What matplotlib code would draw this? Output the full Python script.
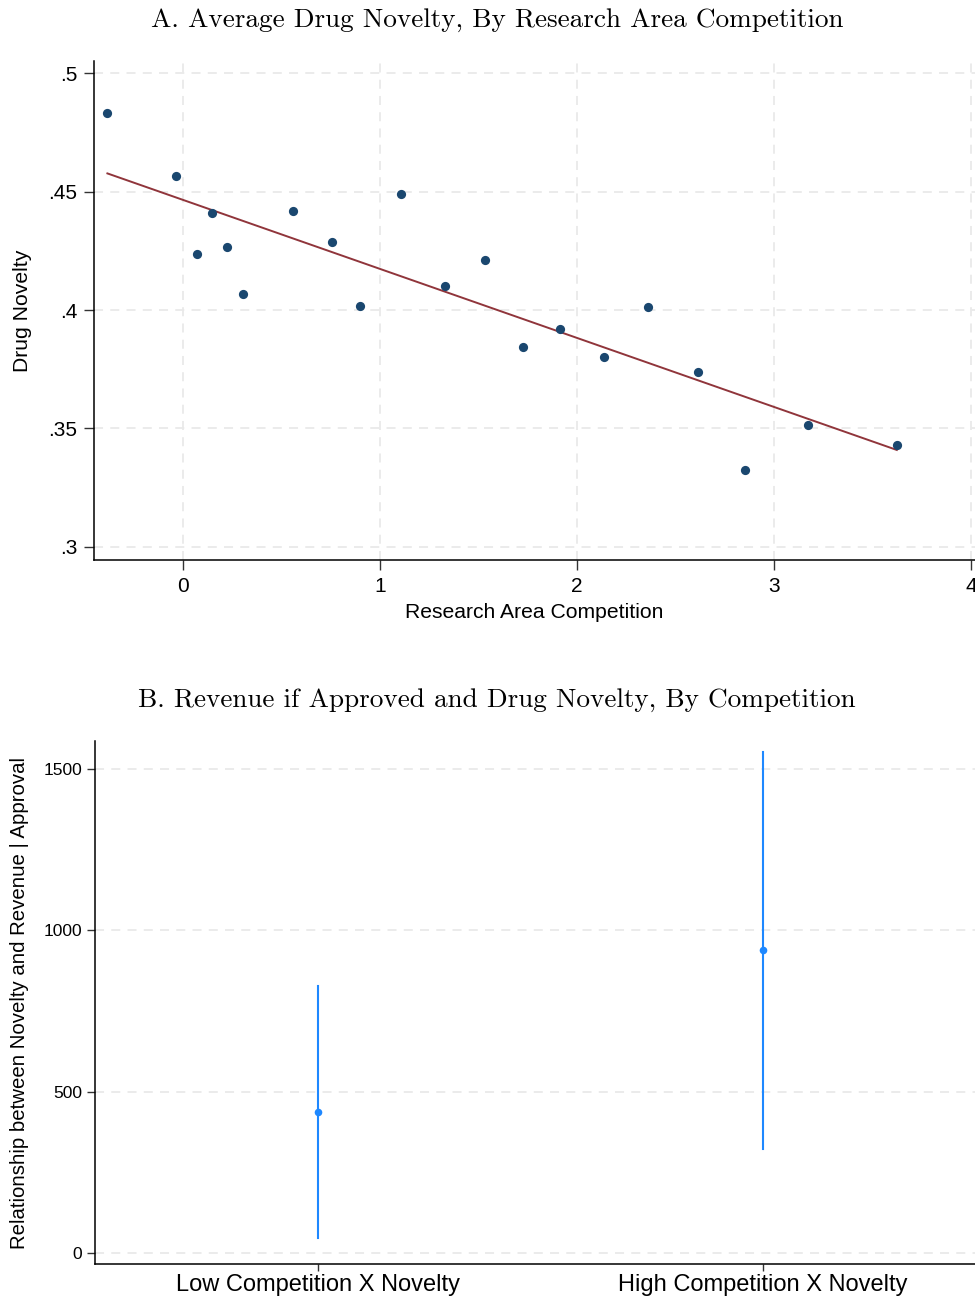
import matplotlib
matplotlib.use("Agg")
import matplotlib.pyplot as plt

# Panel A: binned scatter of drug novelty against research area competition
competition = [-0.385, -0.035, 0.147, 0.071, 0.223, 0.304, 0.555, 0.757, 0.898,
               1.105, 1.327, 1.531, 1.727, 1.915, 2.134, 2.362, 2.616, 2.854,
               3.172, 3.623]
novelty = [0.4833, 0.4565, 0.4411, 0.4236, 0.4265, 0.4066, 0.4420, 0.4287,
           0.4017, 0.4490, 0.4100, 0.4213, 0.3842, 0.3920, 0.3800, 0.4013,
           0.3740, 0.3326, 0.3513, 0.3430]

# fitted line end points
fit_x = [-0.385, 3.623]
fit_y = [0.4577, 0.3409]

x_ticks_a = [0, 1, 2, 3, 4]
y_ticks_a = [0.3, 0.35, 0.4, 0.45, 0.5]
y_labels_a = [".3", ".35", ".4", ".45", ".5"]

# Panel B: coefficient estimates with confidence intervals
groups = ["Low Competition X Novelty", "High Competition X Novelty"]
coef = [438, 939]
ci_low = [49, 324]
ci_high = [827, 1552]
y_ticks_b = [0, 500, 1000, 1500]

navy = "#1a476f"
maroon = "#90353b"
blue = "#1e88ff"
grid_col = "#e9e9e9"
sans = "Liberation Sans"
serif = "cmr10"

plt.rcParams["font.family"] = [sans, "DejaVu Sans"]

fig = plt.figure(figsize=(9.75, 12.97), dpi=100)

ax1 = fig.add_axes([94 / 975, 1 - 560.3 / 1297, 881 / 975, (560.3 - 60.7) / 1297])
ax1.scatter(competition, novelty, s=44, color=navy, zorder=3, linewidths=0)
ax1.plot(fit_x, fit_y, color=maroon, lw=1.4, zorder=2)

ax1.set_xlim(-0.453, 4.02)
ax1.set_ylim(0.2943, 0.5053)
ax1.set_xticks(x_ticks_a)
ax1.set_yticks(y_ticks_a)
ax1.set_yticklabels(y_labels_a)
ax1.grid(True, color=grid_col, lw=1.3, linestyle=(0, (5, 4)))
ax1.set_axisbelow(True)
ax1.set_xlabel("Research Area Competition", fontsize=15.2, labelpad=5)
ax1.set_ylabel("Drug Novelty", fontsize=15.2)
ax1.yaxis.set_label_coords(-0.0705, 0.5)
ax1.tick_params(labelsize=15, length=7, width=1, color="#333333", pad=5)

ax2 = fig.add_axes([95.3 / 975, 1 - 1264.3 / 1297, 889.7 / 975, (1264.3 - 740.8) / 1297])
pos = [1, 2]
for p, c, lo, hi in zip(pos, coef, ci_low, ci_high):
    ax2.plot([p, p], [lo, hi], color=blue, lw=1.5, zorder=2)
ax2.scatter(pos, coef, s=30, color=blue, zorder=3, linewidths=0)

ax2.set_xlim(0.5, 2.5)
ax2.set_ylim(-33.6, 1586)
ax2.set_xticks(pos)
ax2.set_xticklabels(groups, fontsize=17)
ax2.set_yticks(y_ticks_b)
ax2.yaxis.grid(True, color=grid_col, lw=1.3, linestyle=(0, (5, 4)))
ax2.set_axisbelow(True)
ax2.set_ylabel("Relationship between Novelty and Revenue | Approval", fontsize=14.7)
ax2.yaxis.set_label_coords(-0.074, 0.5)
ax2.tick_params(axis="y", labelsize=12.5, length=6, width=1, color="#333333")
ax2.tick_params(axis="x", length=5, width=1, pad=2, color="#333333")

for ax in (ax1, ax2):
    ax.spines["top"].set_visible(False)
    ax.spines["right"].set_visible(False)
    ax.spines["left"].set_linewidth(1.1)
    ax.spines["bottom"].set_linewidth(1.1)

fig.text(497 / 975, 1 - 20 / 1297, "A. Average Drug Novelty, By Research Area Competition",
         family=serif, fontsize=19.6, ha="center", va="center")
fig.text(497 / 975, 1 - 700 / 1297, "B. Revenue if Approved and Drug Novelty, By Competition",
         family=serif, fontsize=19.6, ha="center", va="center")

fig.savefig("out.png", dpi=100, facecolor="white")
